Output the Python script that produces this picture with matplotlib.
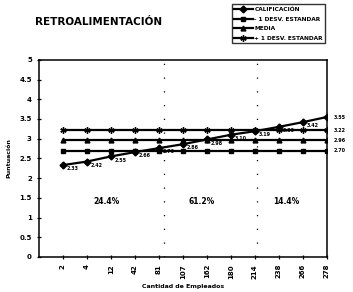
import matplotlib.pyplot as plt
import numpy as np

# datos
empleados = ['2', '4', '12', '42', '81', '107', '162', '180', '214', '238', '266', '278']
calificacion = [2.33, 2.42, 2.55, 2.66, 2.76, 2.86, 2.98, 3.10, 3.19, 3.30, 3.42, 3.55]
media = 2.96
desv_menos = 2.70
desv_mas = 3.22
porcentajes = ['24.4%', '61.2%', '14.4%']
pos_porcentajes = [1.8, 5.8, 9.3]
cortes = [4.2, 8.1]

xx = np.arange(len(empleados))
n = len(empleados)

fig = plt.figure(figsize=(3.53, 2.92), dpi=100)
ax = fig.add_axes([0.110, 0.120, 0.816, 0.675])

ax.plot(xx, calificacion, color='black', marker='D', markersize=3.5, lw=1.6, label='CALIFICACIÓN')
ax.plot(xx, [desv_menos]*n, color='black', marker='s', markersize=3.5, lw=1.6, label='- 1 DESV. ESTANDAR')
ax.plot(xx, [media]*n, color='black', marker='^', markersize=3.5, lw=1.6, label='MEDIA')
ax.plot(xx, [desv_mas]*n, color='black', marker=(6, 2, 0), markersize=4.5, lw=1.6, label='+ 1 DESV. ESTANDAR')

# etiquetas de cada punto
for i in range(n - 1):
	ax.text(xx[i] + 0.15, calificacion[i] - 0.03, '%.2f' % calificacion[i],
		fontsize=3.5, fontweight='bold', va='top', ha='left')
ax.text(xx[-1] + 0.3, calificacion[-1], '%.2f' % calificacion[-1], fontsize=3.5, fontweight='bold', va='center', clip_on=False)
ax.text(xx[-1] + 0.3, desv_mas, '%.2f' % desv_mas, fontsize=3.5, fontweight='bold', va='center', clip_on=False)
ax.text(xx[-1] + 0.3, media, '%.2f' % media, fontsize=3.5, fontweight='bold', va='center', clip_on=False)
ax.text(xx[-1] + 0.3, desv_menos, '%.2f' % desv_menos, fontsize=3.5, fontweight='bold', va='center', clip_on=False)

for c in cortes:
	ax.axvline(c, color='black', lw=0.9, linestyle=(0, (1, 10)))
for p, t in zip(pos_porcentajes, porcentajes):
	ax.text(p, 1.4, t, fontsize=5.5, fontweight='bold', ha='center', va='center')

ax.set_xlim(-1, 11)
ax.set_ylim(0, 5)
ax.set_yticks(np.arange(0, 5.01, 0.5))
ax.set_yticklabels(['0', '0.5', '1', '1.5', '2', '2.5', '3', '3.5', '4', '4.5', '5'])
ax.set_xticks(xx)
ax.set_xticklabels(empleados, rotation=90)
ax.tick_params(labelsize=5, length=3, direction='inout', width=0.9)
for lab in ax.get_xticklabels() + ax.get_yticklabels():
	lab.set_fontweight('bold')
for s in ax.spines.values():
	s.set_linewidth(1.1)

ax.set_xlabel('Cantidad de Empleados', fontsize=4.5, fontweight='bold', labelpad=4)
ax.set_ylabel('Puntuación', fontsize=4.5, fontweight='bold', labelpad=6)

fig.text(0.10, 0.925, 'RETROALIMENTACIÓN', fontsize=7.5, fontweight='bold', va='center')
fig.legend(loc='upper right', bbox_to_anchor=(0.93, 0.995), prop={'size': 4.2, 'weight': 'bold'},
	frameon=True, fancybox=False, edgecolor='black', handlelength=3.2, borderpad=0.4, labelspacing=0.8,
	handletextpad=0.3)

plt.savefig('out.png')
